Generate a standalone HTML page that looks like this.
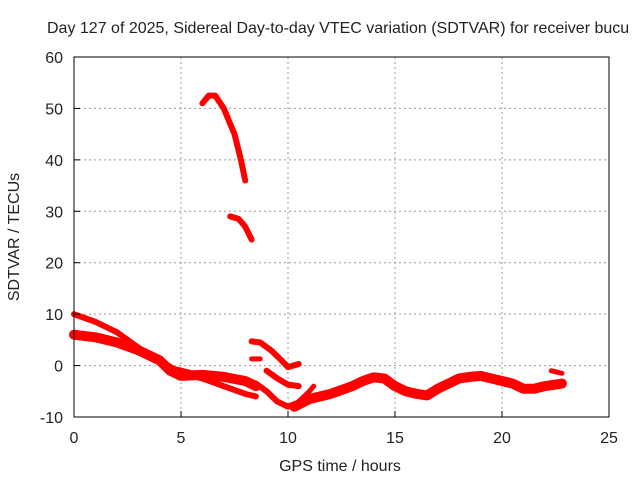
<!DOCTYPE html>
<html><head><meta charset="utf-8"><style>
body{margin:0;background:#fff;font-family:"Liberation Sans",sans-serif}
svg text{font-family:"Liberation Sans",sans-serif;font-size:16px;fill:#222}
</style></head><body>
<svg width="640" height="480" xmlns="http://www.w3.org/2000/svg">
<rect width="640" height="480" fill="#fff"/>
<g id="grid"></g>
<g id="series"></g>
<rect x="74" y="57" width="535" height="360" fill="none" stroke="#000" stroke-width="1"/>
<g id="axes"></g>
<text x="47" y="33">Day 127 of 2025, Sidereal Day-to-day VTEC variation (SDTVAR) for receiver bucu</text>
<text x="340" y="471" text-anchor="middle">GPS time / hours</text>
<text transform="translate(19,237) rotate(-90)" text-anchor="middle">SDTVAR / TECUs</text>
</svg>
<script>
const xTicks=[0,5,10,15,20,25];
const yTicks=[-10,0,10,20,30,40,50,60];
const segA=[[0,10],[1,8.5],[2,6.5],[3,3.5],[3.5,2],[4,1],[4.5,-0.5],[5,-1],[6,-2],[7,-2.5],[8,-3],[8.5,-3.5],[9,-5],[9.5,-7],[10,-8],[10.3,-7.5]];
const segB=[[0,6],[1,5.5],[2,4.5],[3,3],[4,1],[4.5,-1],[5,-2],[6,-1.8],[7,-2.2],[8,-3],[8.5,-4]];
const segC=[[4,1],[5,-1.5],[6,-2.5],[7,-4],[8,-5.5],[8.5,-6]];
const segPeak=[[6,51],[6.3,52.5],[6.6,52.5],[7,50],[7.5,45],[7.8,40],[8,36]];
const segD=[[7.3,29],[7.7,28.5],[8,27],[8.3,24.5]];
const segE=[[8.3,4.7],[8.7,4.5],[9.2,3],[9.7,1],[10,-0.3],[10.5,0.3]];
const segF=[[8.3,1.3],[8.7,1.3]];
const segG=[[9,-1],[9.5,-2.5],[10,-3.7],[10.5,-4]];
const segH=[[10.3,-8],[11,-6.5],[12,-5.5],[13,-4],[13.5,-3],[14,-2.3],[14.5,-2.5],[15,-4],[15.5,-5],[16,-5.5],[16.5,-5.8],[17,-4.5],[17.5,-3.5],[18,-2.5],[18.5,-2.2],[19,-2],[19.5,-2.5],[20,-3],[20.5,-3.5],[21,-4.5],[21.5,-4.5],[22,-4],[22.8,-3.5]];
const segI=[[10.5,-7],[11,-5],[11.2,-4]];
const segJ=[[22.3,-1],[22.8,-1.5]];
const series=[[segA,6],[segB,10],[segC,6],[segPeak,6],[segD,6],[segE,6],[segF,5],[segG,6],[segH,10],[segI,5],[segJ,5]];
const NS="http://www.w3.org/2000/svg";
const px=h=>74+h*535/25;
const py=v=>57+(60-v)*360/70;
const grid=document.getElementById('grid'),axes=document.getElementById('axes'),sg=document.getElementById('series');
function mk(tag,at,p){const e=document.createElementNS(NS,tag);for(const k in at)e.setAttribute(k,at[k]);p.appendChild(e);return e;}
xTicks.forEach(t=>{
 if(t>0&&t<25){const g=mk('line',{x1:px(t),x2:px(t),y1:57,y2:417,stroke:'#999','stroke-dasharray':'2,3'},grid);
 
 }
 const l=mk('line',{x1:px(t),x2:px(t),y1:411,y2:417,stroke:'#000'},axes);
 
 
 const tx=mk('text',{x:px(t),y:443,'text-anchor':'middle'},axes);tx.textContent=t;
 
 
});
yTicks.forEach(t=>{
 if(t>-10&&t<60){const g=mk('line',{x1:74,x2:609,y1:py(t),y2:py(t),stroke:'#999','stroke-dasharray':'2,3'},grid);
 
 }
 const l=mk('line',{x1:74,x2:80,y1:py(t),y2:py(t),stroke:'#000'},axes);
 
 
 const tx=mk('text',{x:63,y:py(t)+6,'text-anchor':'end'},axes);tx.textContent=t;
 
 
});
series.forEach(([pts,w])=>{
 const p=mk('polyline',{points:pts.map(d=>px(d[0])+','+py(d[1])).join(' '),fill:'none',stroke:'#ff0000','stroke-width':w,'stroke-linejoin':'round','stroke-linecap':'round'},sg);
 
 
});
</script>
</body></html>
